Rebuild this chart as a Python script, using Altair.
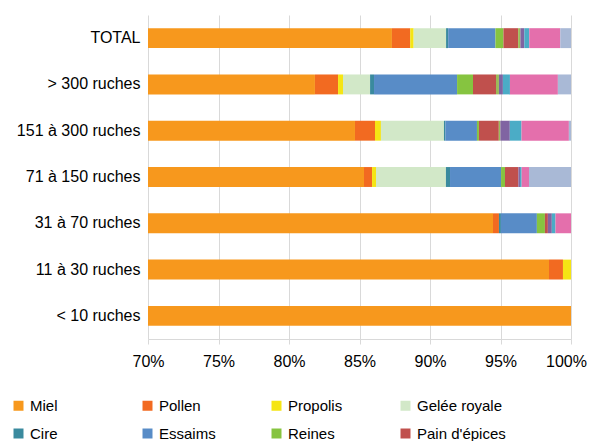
import altair as alt
import pandas as pd

categories = ["TOTAL", "> 300 ruches", "151 à 300 ruches", "71 à 150 ruches",
              "31 à 70 ruches", "11 à 30 ruches", "< 10 ruches"]

series = ["Miel", "Pollen", "Propolis", "Gelée royale", "Cire", "Essaims",
          "Reines", "Pain d'épices", "Hydromel", "Bougies", "Vinaigre de miel",
          "Produits transformés", "Autres"]

colors = ["#F7981D", "#F26A21", "#F5E514", "#D2E8C8", "#3A8A9E", "#588CC7",
          "#86C440", "#C0504D", "#9BBB59", "#8064A2", "#4BACC6", "#E46FAC", "#A9B9D6"]

# values (%) per series, in the order of categories
miel = [87.30, 81.84, 84.68, 85.32, 94.47, 98.44, 100.0]
pollen = [1.30, 1.64, 1.42, 0.57, 0.42, 0.99, 0]
propolis = [0.24, 0.35, 0.42, 0.28, 0, 0.57, 0]
gelee = [2.30, 1.92, 4.47, 4.96, 0, 0, 0]
cire = [0.15, 0.28, 0.10, 0.29, 0.14, 0, 0]
essaims = [3.35, 5.89, 2.24, 3.62, 2.55, 0, 0]
reines = [0.57, 1.13, 0.14, 0.28, 0.57, 0, 0]
pain = [1.04, 1.63, 1.41, 0.95, 0.21, 0, 0]
hydromel = [0.16, 0.21, 0.11, 0, 0, 0, 0]
bougies = [0.28, 0.28, 0.67, 0.11, 0.28, 0, 0]
vinaigre = [0.35, 0.50, 0.83, 0.12, 0.26, 0, 0]
transformes = [2.20, 3.40, 3.36, 0.52, 1.10, 0, 0]
autres = [0.76, 0.93, 0.15, 2.98, 0, 0, 0]

values = [miel, pollen, propolis, gelee, cire, essaims, reines, pain,
          hydromel, bougies, vinaigre, transformes, autres]

rows = []
for si, (name, vals) in enumerate(zip(series, values)):
    for ci, cat in enumerate(categories):
        if vals[ci] > 0:
            rows.append({"category": cat, "series": name, "value": vals[ci], "idx": si})
df = pd.DataFrame(rows)

FONT = "Liberation Sans"

chart = alt.Chart(df).mark_bar(clip=True).encode(
    y=alt.Y("category:N", sort=categories,
            scale=alt.Scale(paddingInner=0.57, paddingOuter=0.285),
            axis=alt.Axis(title=None, domain=False, ticks=False, labelFontSize=16,
                          labelPadding=8, labelColor="#000000", labelFont=FONT)),
    x=alt.X("value:Q", stack="zero",
            scale=alt.Scale(domain=[70, 100], nice=False, zero=False),
            axis=alt.Axis(title=None, values=[70, 75, 80, 85, 90, 95, 100],
                          labelExpr="datum.value + '%'", grid=True, gridColor="#d9d9d9",
                          domainColor="#d9d9d9", tickColor="#d9d9d9", tickSize=5,
                          labelFlush=False, labelBound=False,
                          labelOffset={"condition": {"test": "datum.value == 100", "value": -5},
                                       "value": 0},
                          labelFontSize=16, labelPadding=9, labelColor="#000000",
                          labelFont=FONT)),
    color=alt.Color("series:N", sort=series,
                    scale=alt.Scale(domain=series, range=colors),
                    legend=alt.Legend(title=None, values=series[:8], orient="none",
                                      direction="horizontal",
                                      legendX=-137, legendY=383, columns=4,
                                      gridAlign="all", columnPadding=21, rowPadding=12,
                                      symbolType="square", symbolSize=100,
                                      symbolStrokeWidth=0, labelFontSize=15,
                                      labelFont=FONT, labelColor="#000000",
                                      labelOffset=4, padding=0)),
    order=alt.Order("idx:Q"),
).properties(
    width=423, height=324,
    autosize=alt.AutoSizeParams(type="none"),
    padding={"left": 140, "top": 7, "right": 16, "bottom": 110},
).configure_view(strokeWidth=0)

chart.save("out.html", embed_options={"renderer": "svg", "actions": False})
